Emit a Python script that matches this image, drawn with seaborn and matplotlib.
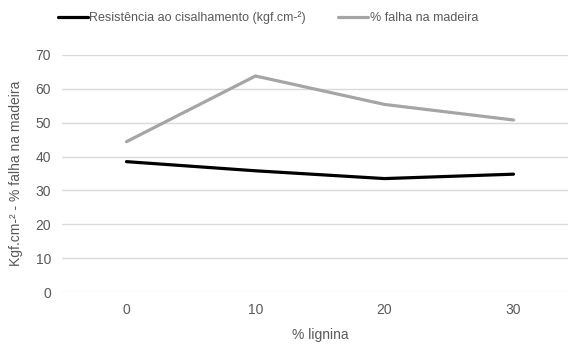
import matplotlib
matplotlib.use("Agg")
import matplotlib.pyplot as plt
import seaborn as sns
import pandas as pd

# data
lignina = ["0", "10", "20", "30"]
resistencia = [38.5, 35.8, 33.5, 34.8]
falha = [44.4, 63.8, 55.4, 50.8]

serie_res = "Resistência ao cisalhamento (kgf.cm-²)"
serie_falha = "% falha na madeira"

df = pd.DataFrame({
    "pos": list(range(len(lignina))) * 2,
    "valor": resistencia + falha,
    "serie": [serie_res] * len(lignina) + [serie_falha] * len(lignina),
})

sns.set_theme(style="white")
plt.rcParams["font.family"] = ["Liberation Sans", "DejaVu Sans"]
text_color = "#595959"

fig = plt.figure(figsize=(5.68, 3.44), dpi=100)
ax = fig.add_axes([62 / 568, 52 / 344, 516 / 568, 237 / 344])

sns.lineplot(data=df, x="pos", y="valor", hue="serie",
             palette={serie_res: "#000000", serie_falha: "#a5a5a5"},
             linewidth=2.3, ax=ax, legend=False)

ax.set_xlim(-0.5, 3.5)
ax.set_ylim(0, 70)
ax.set_yticks(range(0, 71, 10))
ax.set_xticks(range(len(lignina)))
ax.set_xticklabels(lignina)
ax.grid(axis="y", color="#d9d9d9", linewidth=1)
ax.set_axisbelow(True)
for s in ax.spines.values():
    s.set_visible(False)
ax.tick_params(axis="both", length=0, labelsize=10, colors=text_color, pad=8)
ax.set_xlabel("% lignina", fontsize=10, color=text_color, labelpad=8)
ax.set_ylabel("Kgf.cm-² - % falha na madeira", fontsize=10, color=text_color, labelpad=9)

handles = [plt.Line2D([], [], color="#000000", lw=2.3),
           plt.Line2D([], [], color="#a5a5a5", lw=2.3)]
fig.legend(handles, [serie_res, serie_falha], loc="center",
           bbox_to_anchor=(0.472, 0.948), ncol=2, frameon=False,
           fontsize=9, handlelength=2.4, handletextpad=0.1,
           columnspacing=2.6, labelcolor=text_color)

fig.savefig("out.png", dpi=100)
